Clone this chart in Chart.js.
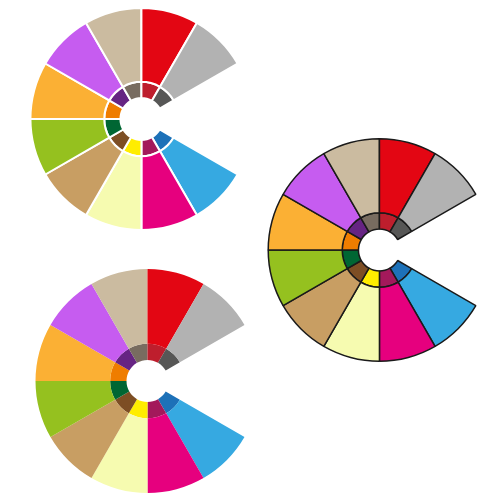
<!DOCTYPE html>
<html>
<head>
<script src="https://cdn.jsdelivr.net/npm/chart.js@4"></script>
<style>
  body { margin: 0; background: #fff; width: 500px; height: 500px; position: relative; overflow: hidden; }
  .box { position: absolute; width: 228px; height: 228px; }
</style>
</head>
<body>
<div class="box" style="left:20px;top:5px"><canvas id="c1"></canvas></div>
<div class="box" style="left:258px;top:136px"><canvas id="c2"></canvas></div>
<div class="box" style="left:26px;top:267px"><canvas id="c3"></canvas></div>
<script>
// slices go clockwise starting at the blue one (4 o'clock), gap of 60 deg left open
const categories = ['Blue', 'Magenta', 'Light yellow', 'Tan', 'Green', 'Orange', 'Purple', 'Beige', 'Red', 'Gray'];
const outerValues = [1, 1, 1, 1, 1, 1, 1, 1, 1, 1];
const innerValues = [1, 1, 1, 1, 1, 1, 1, 1, 1, 1];
const outerColors = ['#36a9e1', '#e6007e', '#f6fbb0', '#c89e63', '#95c11f', '#fbb034', '#c65cf0', '#cbbba0', '#e30613', '#b2b2b2'];
const innerColors = ['#1d71b8', '#a3195b', '#ffed00', '#7d4e24', '#006633', '#ef7d00', '#662483', '#786c60', '#be1e2d', '#575756'];

function makeChart(id, borderColor, borderWidth) {
    new Chart(document.getElementById(id), {
        type: 'doughnut',
        data: {
            labels: categories,
            datasets: [
                { data: outerValues, backgroundColor: outerColors, borderColor: borderColor, borderWidth: borderWidth, weight: 73 },
                { data: innerValues, backgroundColor: innerColors, borderColor: borderColor, borderWidth: borderWidth, weight: 16 }
            ]
        },
        options: {
            responsive: true,
            maintainAspectRatio: true,
            animation: false,
            rotation: 120,
            circumference: 300,
            cutout: 21,
            layout: { padding: 2 },
            plugins: { legend: { display: false }, tooltip: { enabled: false } }
        }
    });
}

makeChart('c1', '#ffffff', 2);
makeChart('c2', '#1a1a1a', 1.5);
makeChart('c3', 'rgba(0,0,0,0)', 0);
</script>
</body>
</html>
